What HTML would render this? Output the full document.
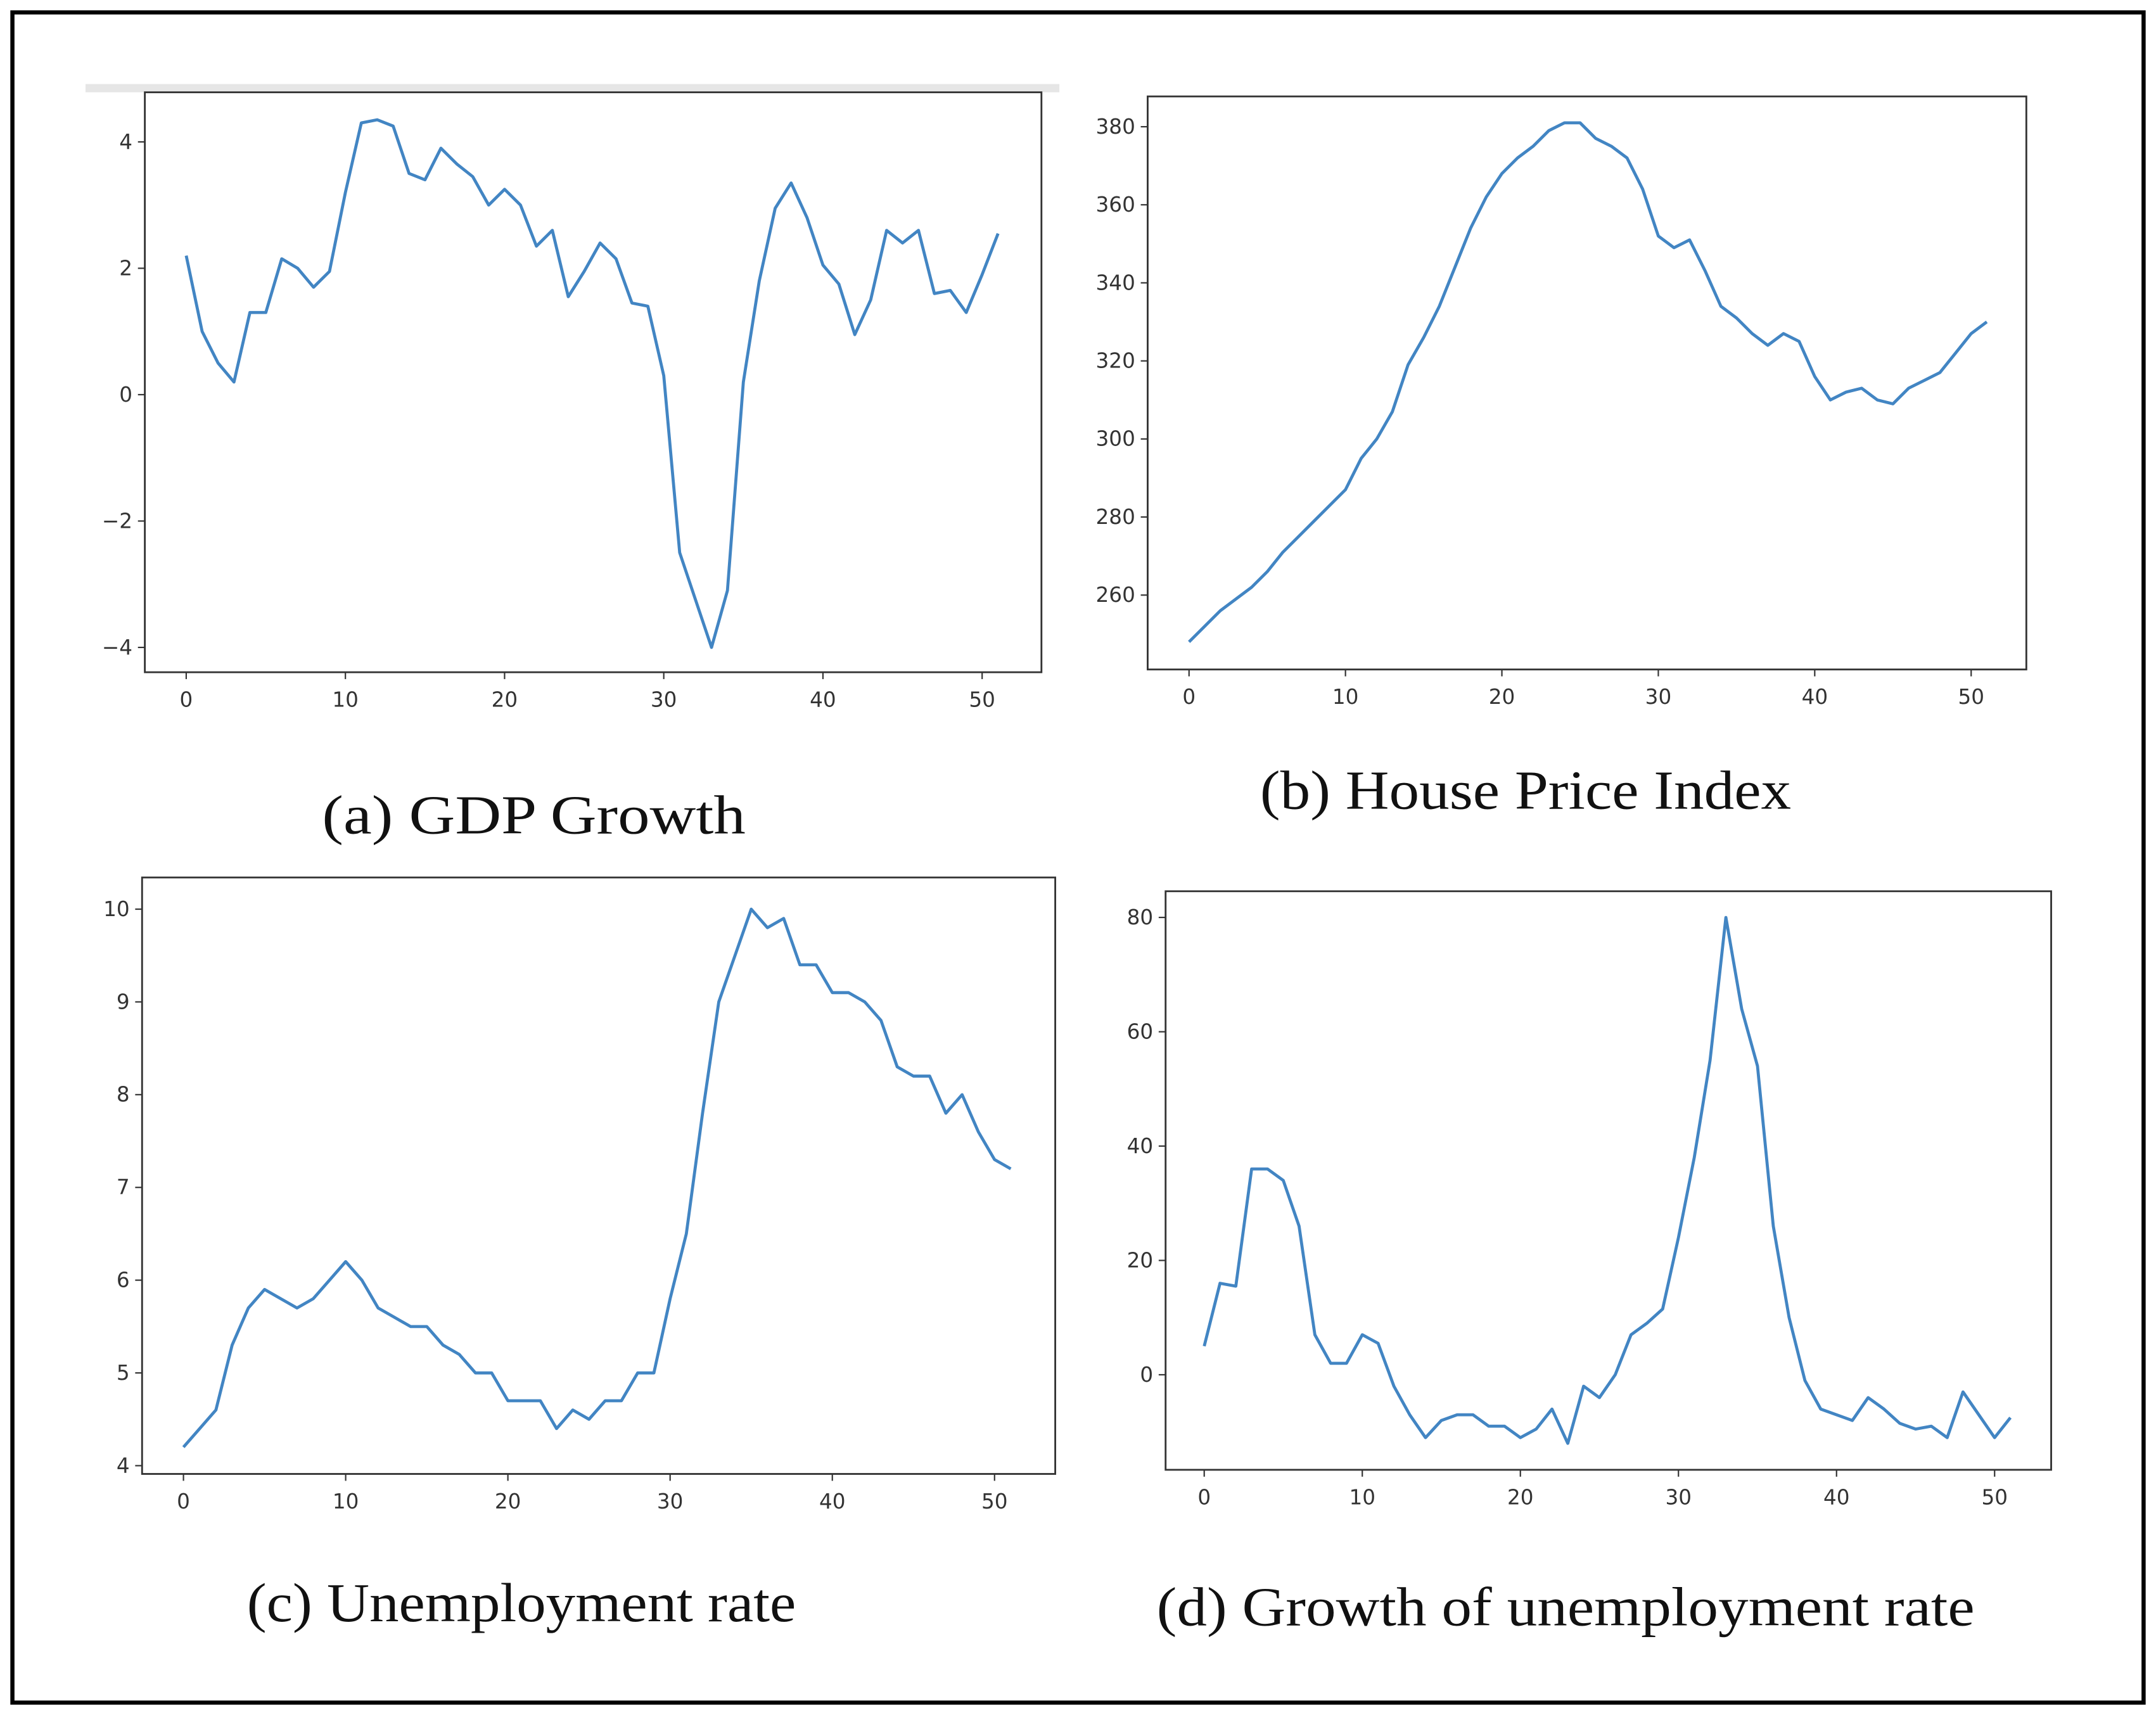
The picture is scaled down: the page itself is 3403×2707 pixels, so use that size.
<!DOCTYPE html>
<html><head><meta charset="utf-8"><style>
html,body{margin:0;padding:0;background:#fff}
svg{display:block}
.tk{font-family:"DejaVu Sans","Liberation Sans",sans-serif;font-size:15px;fill:#333}
.ttl{font-family:"Liberation Serif",serif;font-size:40px;fill:#111}
</style></head><body>
<svg id="root" width="3403" height="2707" viewBox="0 0 1563 1245" preserveAspectRatio="none" xmlns="http://www.w3.org/2000/svg">
<rect x="9" y="9" width="1545" height="1227" fill="#fff" stroke="#000" stroke-width="3"/>
<rect x="62" y="61" width="706" height="6" fill="#e6e6e6"/>
</svg>
<script>
const xs = Array.from({length:52},(_,i)=>i);
const gdpValues=[2.2,1.0,0.5,0.2,1.3,1.3,2.15,2.0,1.7,1.95,3.2,4.3,4.35,4.25,3.5,3.4,3.9,3.65,3.45,3.0,3.25,3.0,2.35,2.6,1.55,1.95,2.4,2.15,1.45,1.4,0.3,-2.5,-3.25,-4.0,-3.1,0.2,1.8,2.95,3.35,2.8,2.05,1.75,0.95,1.5,2.6,2.4,2.6,1.6,1.65,1.3,1.9,2.55];
const hpiValues=[248,252,256,259,262,266,271,275,279,283,287,295,300,307,319,326,334,344,354,362,368,372,375,379,381,381,377,375,372,364,352,349,351,343,334,331,327,324,327,325,316,310,312,313,310,309,313,315,317,322,327,330];
const unempValues=[4.2,4.4,4.6,5.3,5.7,5.9,5.8,5.7,5.8,6.0,6.2,6.0,5.7,5.6,5.5,5.5,5.3,5.2,5.0,5.0,4.7,4.7,4.7,4.4,4.6,4.5,4.7,4.7,5.0,5.0,5.8,6.5,7.8,9.0,9.5,10.0,9.8,9.9,9.4,9.4,9.1,9.1,9.0,8.8,8.3,8.2,8.2,7.8,8.0,7.6,7.3,7.2];
const growthValues=[5,16,15.5,36,36,34,26,7,2,2,7,5.5,-2,-7,-11,-8,-7,-7,-9,-9,-11,-9.5,-6,-12,-2,-4,0,7,9,11.5,24,38,55,80,64,54,26,10,-1,-6,-7,-8,-4,-6,-8.5,-9.5,-9,-11,-3,-7,-11,-7.5];
const xTicks=[0,10,20,30,40,50];
const gdpTicks=[4,2,0,-2,-4];
const hpiTicks=[380,360,340,320,300,280,260];
const unempTicks=[10,9,8,7,6,5,4];
const growthTicks=[80,60,40,20,0];

const NS="http://www.w3.org/2000/svg";
const root=document.getElementById('root');
function mk(tag,attrs,parent){const e=document.createElementNS(NS,tag);for(const k in attrs)e.setAttribute(k,attrs[k]);parent.appendChild(e);return e;}

function panel(id,cfg,vals,yt,title){
  const g=mk('g',{},root);
  
  
  const sx=v=>cfg.x0+(v-0)*(cfg.x50-cfg.x0)/50;
  const sy=v=>cfg.ya+(v-cfg.va)*(cfg.yb-cfg.ya)/(cfg.vb-cfg.va);
  const fr=mk('rect',{x:cfg.l,y:cfg.t,width:cfg.r-cfg.l,height:cfg.b-cfg.t,fill:'none',stroke:'#333','stroke-width':1.3},g);
  
  
  xTicks.forEach(v=>{
    mk('line',{x1:sx(v),x2:sx(v),y1:cfg.b,y2:cfg.b+5,stroke:'#333','stroke-width':1},g);
    const t=mk('text',{x:sx(v),y:cfg.b+25,'text-anchor':'middle',class:'tk'},g);
    t.textContent=v;
    
    
  });
  yt.forEach(v=>{
    mk('line',{x1:cfg.l-5,x2:cfg.l,y1:sy(v),y2:sy(v),stroke:'#333','stroke-width':1},g);
    const t=mk('text',{x:cfg.l-9,y:sy(v)+5,'text-anchor':'end',class:'tk'},g);
    t.textContent=v<0?'\u2212'+Math.abs(v):v;
    
    
  });
  const p=mk('polyline',{points:vals.map((v,i)=>sx(xs[i])+','+sy(v)).join(' '),fill:'none',stroke:'#4285c3','stroke-width':2.2,'stroke-linejoin':'round'},g);
  
  
  const tt=mk('text',{x:cfg.tx,y:cfg.ty,'text-anchor':'middle',class:'ttl',textLength:cfg.tw,lengthAdjust:'spacingAndGlyphs'},g);
  tt.textContent=title;
  
  
}
panel('gdp-growth',{l:105,r:755,t:67,b:488,x0:135,x50:712,ya:103,va:4,yb:470,vb:-4,tx:387,ty:605,tw:307},gdpValues,gdpTicks,'(a) GDP Growth');
panel('house-price-index',{l:832,r:1469,t:70,b:486,x0:862,x50:1429,ya:92,va:380,yb:432,vb:260,tx:1106,ty:587,tw:385},hpiValues,hpiTicks,'(b) House Price Index');
panel('unemployment-rate',{l:103,r:765,t:637,b:1070,x0:133,x50:721,ya:660,va:10,yb:1064,vb:4,tx:378,ty:1177,tw:398},unempValues,unempTicks,'(c) Unemployment rate');
panel('unemployment-growth',{l:845,r:1487,t:647,b:1067,x0:873,x50:1446,ya:666,va:80,yb:998,vb:0,tx:1135,ty:1180,tw:593},growthValues,growthTicks,'(d) Growth of unemployment rate');
</script>
</body></html>
